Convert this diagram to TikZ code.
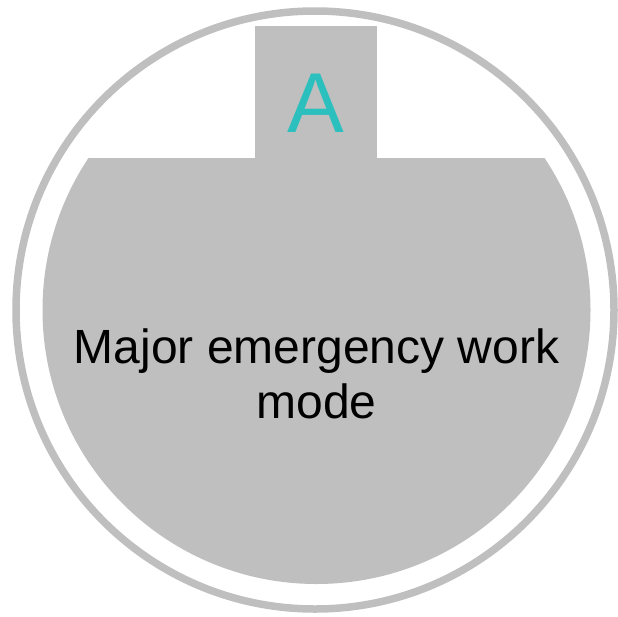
\documentclass[tikz,border=0pt]{standalone}
\usepackage{fontspec}
\setmainfont{Liberation Sans}
\definecolor{ringgray}{RGB}{191,191,191}
\definecolor{teal}{RGB}{43,191,189}
\begin{document}
\begin{tikzpicture}[x=1pt,y=-1pt,
  ring/.style={draw=ringgray,line width=7.5pt},
  disc/.style={fill=ringgray},
  letter/.style={text=teal,font=\fontsize{85}{90}\selectfont,inner sep=0pt},
  label/.style={text=black,font=\fontsize{48}{55}\selectfont,align=center,inner sep=0pt}]
\useasboundingbox (0,0) rectangle (618,616);
\draw[ring] (315,310) circle[radius=299];
\begin{scope}
  \clip (0,158) rectangle (618,616);
  \fill[disc] (316.5,310) circle[radius=274];
\end{scope}
\fill[disc] (255,26) rectangle (377,159);
\node[letter,anchor=base] (A) at (316,132) {A};
\node[label,anchor=base] (mode) at (316.5,418) {Major emergency work\\mode};
\end{tikzpicture}
\end{document}
